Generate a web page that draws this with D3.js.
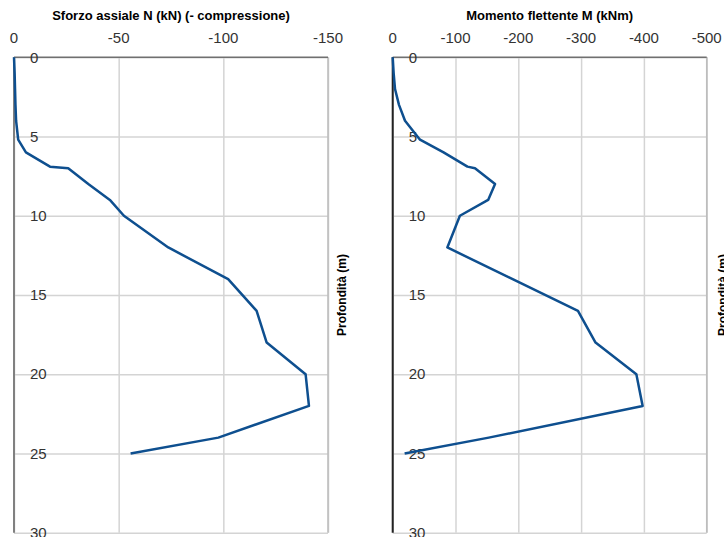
<!DOCTYPE html>
<html><head><meta charset="utf-8">
<script src="https://cdn.jsdelivr.net/npm/d3@7"></script>
<style>body{margin:0;background:#fff}svg{display:block}</style>
</head><body>
<svg id="c" width="724" height="537"></svg>
<script>
const depth = [0,1,2,3,4,5.2,6,6.9,7,8,9,10,12,14,16,18,20,22,24,25];
const axialN = [0,-0.3,-0.5,-0.7,-1,-2,-5.7,-17.2,-25.9,-35.5,-45.8,-52.5,-73.7,-102.3,-115.9,-120.7,-139.3,-140.9,-97.6,-55.7];
const momentM = [0,-1.5,-3.7,-10,-19.6,-43.5,-81,-119,-131,-163,-152,-107,-87,-191,-295,-323,-388,-398,-153,-19];
const nTicks = [0,-50,-100,-150];
const mTicks = [0,-100,-200,-300,-400,-500];
const depthTicks = [0,5,10,15,20,25,30];
const titles = ["Sforzo assiale N (kN) (- compressione)", "Momento flettente M (kNm)"];
const yTitle = "Profondità (m)";

const svg = d3.select("#c");
const font = "'Liberation Sans', Arial, sans-serif";

function panel(opt){
  const x = d3.scaleLinear().domain([0, opt.ticks[opt.ticks.length-1]]).range([opt.x0, opt.x1]);
  const y = d3.scaleLinear().domain([0,30]).range([57.3, 532.7]);
  const g = svg.append("g");
  g.append("g").call(d3.axisTop(x).tickValues(opt.ticks).tickSize(-(y(30)-y(0))).tickFormat(""))
    .attr("transform",`translate(0,${y(0)})`)
    .call(s=>{s.select(".domain").remove(); s.selectAll("line").attr("stroke","#d4d4d4").attr("stroke-width",1.5);});
  g.append("g").call(d3.axisLeft(y).tickValues(depthTicks).tickSize(-(opt.x1-opt.x0)).tickFormat(""))
    .attr("transform",`translate(${opt.x0},0)`)
    .call(s=>{s.select(".domain").remove(); s.selectAll("line").attr("stroke","#d4d4d4").attr("stroke-width",1.5);});
  g.append("line").attr("x1",x(opt.ticks[opt.ticks.length-1])).attr("x2",x(opt.ticks[opt.ticks.length-1]))
    .attr("y1",y(0)).attr("y2",y(30)).attr("stroke","#bdbdbd").attr("stroke-width",1.5);
  g.append("line").attr("x1",x(0)).attr("x2",x(opt.ticks[opt.ticks.length-1])).attr("y1",y(0)).attr("y2",y(0))
    .attr("stroke","#707070").attr("stroke-width",1.5);
  g.append("line").attr("x1",x(0)).attr("x2",x(0)).attr("y1",y(0)).attr("y2",y(30))
    .attr("stroke",opt.leftColor).attr("stroke-width",2);
  g.selectAll("text.xt").data(opt.ticks).join("text")
    .attr("x",d=>x(d)).attr("y",42.5).attr("text-anchor","middle")
    .attr("font-family",font).attr("font-size",15).attr("fill","#333")
    .text(d=>String(d));
  g.selectAll("text.yt").data(depthTicks).join("text")
    .attr("x",opt.x0+16).attr("y",d=>y(d)).attr("dy","0.35em")
    .attr("font-family",font).attr("font-size",15).attr("fill","#333")
    .text(d=>String(d));
  const line = d3.line().x(d=>x(d)).y((d,i)=>y(depth[i]));
  g.append("path").datum(opt.values).attr("d",line).attr("fill","none")
    .attr("stroke","#0e4f8f").attr("stroke-width",2.5).attr("stroke-linejoin","round");
  g.append("text").attr("x",(opt.x0+opt.x1)/2).attr("y",19.5).attr("text-anchor","middle")
    .attr("font-family",font).attr("font-size",13).attr("font-weight","bold").attr("fill","#000")
    .text(opt.title);
  g.append("text").attr("transform",`translate(${opt.yx},${(y(0)+y(30))/2}) rotate(-90)`)
    .attr("text-anchor","middle").attr("font-family",font).attr("font-size",12).attr("font-weight","bold")
    .text(yTitle);
}

panel({x0:14, x1:328, ticks:nTicks, values:axialN, title:titles[0], yx:345.5, leftColor:"#808080"});
panel({x0:392.7, x1:706.7, ticks:mTicks, values:momentM, title:titles[1], yx:726.5, leftColor:"#222"});
</script>
</body></html>
